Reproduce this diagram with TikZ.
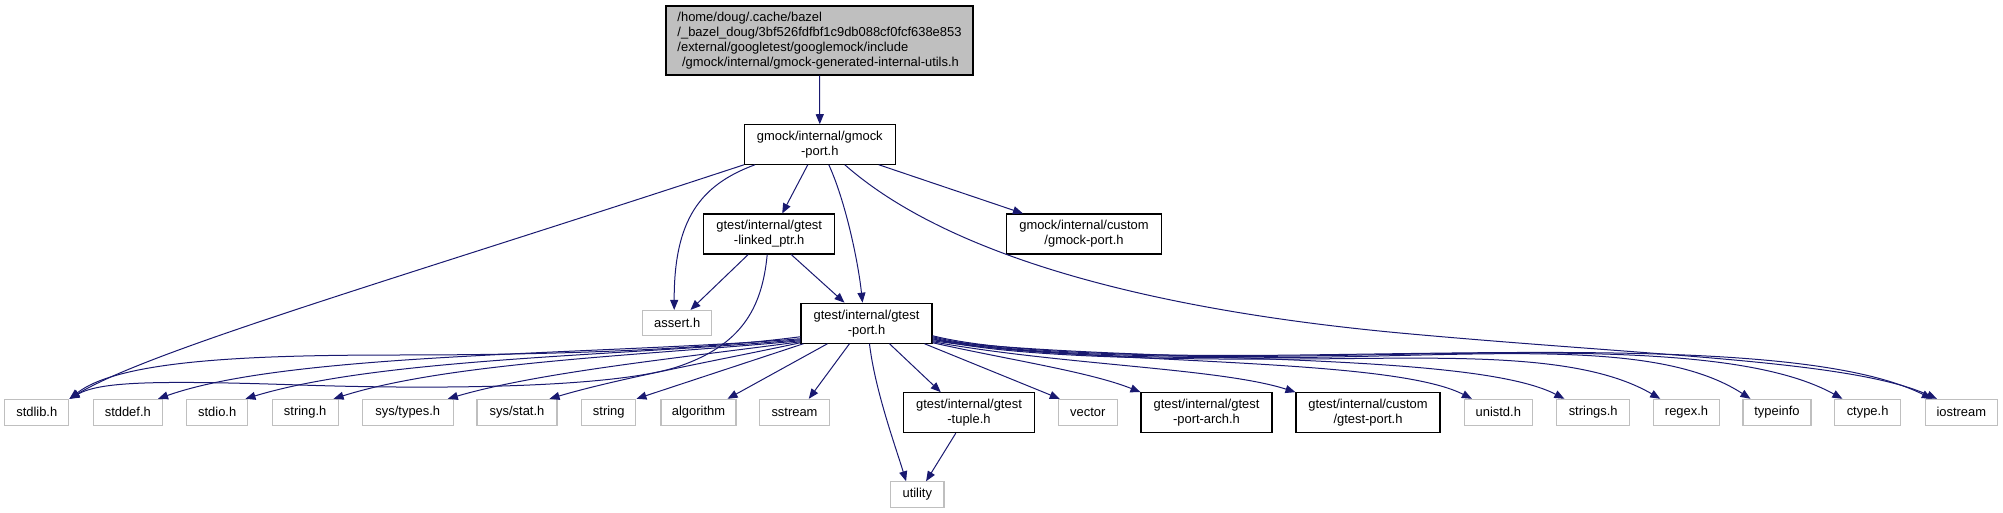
\documentclass[tikz,border=0pt]{standalone}
\usepackage{fontspec}
\setmainfont{Liberation Sans}
\usetikzlibrary{arrows.meta,calc}
\definecolor{edgec}{HTML}{191970}
\definecolor{grayb}{HTML}{BFBFBF}
\definecolor{rootfill}{HTML}{BFBFBF}
\begin{document}
\begin{tikzpicture}[x=0.75pt,y=-0.75pt,
  every node/.style={font=\fontsize{9.7}{11.25}\selectfont, inner sep=0pt},
  blk/.style={draw=black, line width=0.8pt, fill=white, align=center, minimum height=30pt},
  rootbox/.style={draw=black, line width=0.8pt, fill=rootfill, align=left},
  gry/.style={draw=grayb, line width=0.8pt, fill=white, minimum height=19.3pt},
  dep/.style={draw=edgec, line width=0.75pt, -{Triangle[length=7.5pt,width=6pt]}}]
\useasboundingbox (0,0) rectangle (2003,513);

% nodes
\node[rootbox, minimum width=230.25pt, minimum height=51.75pt] (top) at (819.5,40.5)
  {/home/doug/.cache/bazel\\/\_bazel\_doug/3bf526fdfbf1c9db088cf0fcf638e853\\/external/googletest/googlemock/include\\\hspace{3.5pt}/gmock/internal/gmock-generated-internal-utils.h};
\node[blk, minimum width=112.9pt, minimum height=29.6pt] (gmockport) at (819.8,144.5) {gmock/internal/gmock\\-port.h};
\node[blk, minimum width=97.9pt] (linked) at (769.2,234) {gtest/internal/gtest\\-linked\_ptr.h};
\node[blk, minimum width=116.25pt] (gmockcustom) at (1084,234) {gmock/internal/custom\\/gmock-port.h};
\node[gry, minimum width=52.1pt, minimum height=19.1pt] (assert) at (677.2,323.2) {assert.h};
\node[blk, minimum width=98.25pt] (gtestport) at (866.5,323.2) {gtest/internal/gtest\\-port.h};

\node[gry, minimum width=48.2pt] (stdlib) at (36.8,412.2) {stdlib.h};
\node[gry, minimum width=52.1pt] (stddef) at (127.8,412.2) {stddef.h};
\node[gry, minimum width=46.1pt] (stdio) at (217.2,412.2) {stdio.h};
\node[gry, minimum width=49.3pt] (stringh) at (305.2,412.2) {string.h};
\node[gry, minimum width=68.25pt] (systypes) at (407.8,412.2) {sys/types.h};
\node[gry, minimum width=60pt] (sysstat) at (517,412.2) {sys/stat.h};
\node[gry, minimum width=40.7pt] (string) at (608.8,412.2) {string};
\node[gry, minimum width=56.25pt] (algorithm) at (698.5,412.2) {algorithm};
\node[gry, minimum width=52.2pt] (sstream) at (794.5,412.2) {sstream};
\node[blk, minimum width=98.55pt] (tuple) at (969,412.7) {gtest/internal/gtest\\-tuple.h};
\node[gry, minimum width=44.25pt] (vector) at (1087.8,412.2) {vector};
\node[blk, minimum width=98.25pt] (arch) at (1206.5,412.7) {gtest/internal/gtest\\-port-arch.h};
\node[blk, minimum width=108pt] (gtestcustom) at (1368,412.7) {gtest/internal/custom\\/gtest-port.h};
\node[gry, minimum width=50.8pt] (unistd) at (1498.3,412.2) {unistd.h};
\node[gry, minimum width=54.4pt] (strings) at (1593.2,412.2) {strings.h};
\node[gry, minimum width=49.1pt] (regex) at (1686.5,412.2) {regex.h};
\node[gry, minimum width=51pt] (typeinfo) at (1777,412.2) {typeinfo};
\node[gry, minimum width=49pt] (ctype) at (1867.6,412.2) {ctype.h};
\node[gry, minimum width=53.85pt] (iostream) at (1961.3,412.2) {iostream};
\node[gry, minimum width=40pt, minimum height=19.1pt] (utility) at (917.3,494.5) {utility};

% edges from root and gmock-port
\draw[dep] (top.south) -- (gmockport.north);
\draw[dep] (gmockport.south west) .. controls (400,278) and (150,350) .. (stdlib.north east);
\draw[dep] ($(gmockport.south west)+(11,0)$) .. controls (700,185) and (674,220) .. ($(assert.north)+(-3,0)$);
\draw[dep] ($(gmockport.south)+(-12,0)$) -- ($(linked.north)+(13,0)$);
\draw[dep] ($(gmockport.south)+(9,0)$) .. controls (845,200) and (858,260) .. ($(gtestport.north)+(-4,0)$);
\draw[dep] ($(gmockport.south)+(59,0)$) -- ($(gmockcustom.north west)+(17,0)$);
\draw[dep] ($(gmockport.south)+(25,0)$) .. controls (930,240) and (1100,305) .. (1400,333)
  .. controls (1650,356) and (1850,360) .. ($(iostream.north west)+(12,0)$);

% edges from linked_ptr
\draw[dep] ($(linked.south)+(-21,0)$) -- ($(assert.north east)+(-22,0)$);
\draw[dep] ($(linked.south)+(22,0)$) -- ($(gtestport.north west)+(44,0)$);
\draw[dep] ($(linked.south)+(-2,0)$) .. controls (762,310) and (740,345) .. (680,366)
  .. controls (620,387) and (450,390) .. (300,385)
  .. controls (150,380) and (100,382) .. (stdlib.north east);

% gtest-port, left fan
\draw[dep] ($(gtestport.south west)+(0,-7)$) .. controls (700,350) and (550,355) .. (400,355)
  .. controls (250,355) and (120,360) .. (stdlib.north east);
\draw[dep] ($(gtestport.south west)+(0,-5)$) .. controls (600,355) and (290,352) .. ($(stddef.north east)+(-5,0)$);
\draw[dep] ($(gtestport.south west)+(0,-4)$) .. controls (620,356) and (380,358) .. ($(stdio.north east)+(-3,0)$);
\draw[dep] ($(gtestport.south west)+(0,-3)$) .. controls (650,355) and (450,362) .. ($(stringh.north east)+(-5,0)$);
\draw[dep] ($(gtestport.south west)+(0,-2)$) .. controls (680,358) and (540,372) .. ($(systypes.north east)+(-6,0)$);
\draw[dep] ($(gtestport.south west)+(0,-1)$) .. controls (720,360) and (620,378) .. ($(sysstat.north east)+(-8,0)$);
\draw[dep] ($(gtestport.south west)+(3,0)$) -- (string.north east);

% gtest-port, bottom
\draw[dep] ($(gtestport.south west)+(27,0)$) -- ($(algorithm.north east)+(-9,0)$);
\draw[dep] ($(gtestport.south west)+(49,0)$) -- ($(sstream.north east)+(-21,0)$);
\draw[dep] ($(gtestport.south west)+(69,0)$) .. controls (875,390) and (895,445) .. ($(utility.north west)+(16,0)$);
\draw[dep] ($(gtestport.south west)+(89,0)$) -- ($(tuple.north west)+(38,0)$);
\draw[dep] ($(gtestport.south west)+(124,0)$) -- ($(vector.north west)+(2,0)$);

% gtest-port, right fan
\draw[dep] ($(gtestport.south east)+(0,-1)$) .. controls (1010,360) and (1090,372) .. (arch.north west);
\draw[dep] ($(gtestport.south east)+(0,-2)$) .. controls (1060,365) and (1220,368) .. (gtestcustom.north west);
\draw[dep] ($(gtestport.south east)+(0,-3)$) .. controls (1100,365) and (1390,357) .. ($(unistd.north west)+(8,0)$);
\draw[dep] ($(gtestport.south east)+(0,-4)$) .. controls (1120,364) and (1470,350) .. ($(strings.north west)+(8,0)$);
\draw[dep] ($(gtestport.south east)+(0,-5)$) .. controls (1000,356) and (1150,360) .. (1300,359)
  .. controls (1450,358) and (1580,352) .. ($(regex.north west)+(7,0)$);
\draw[dep] ($(gtestport.south east)+(0,-6)$) .. controls (1000,355) and (1150,359) .. (1300,357.5)
  .. controls (1500,355) and (1660,340) .. ($(typeinfo.north west)+(8,0)$);
\draw[dep] ($(gtestport.south east)+(0,-7)$) .. controls (1000,354) and (1150,358) .. (1300,356)
  .. controls (1520,353) and (1740,342) .. ($(ctype.north west)+(8,0)$);
\draw[dep] ($(gtestport.south east)+(0,-8)$) .. controls (1000,353) and (1150,357) .. (1300,355)
  .. controls (1550,352) and (1820,343) .. ($(iostream.north west)+(7,0)$);

% tuple
\draw[dep] ($(tuple.south west)+(53,0)$) -- ($(utility.north west)+(36,0)$);
\end{tikzpicture}
\end{document}
